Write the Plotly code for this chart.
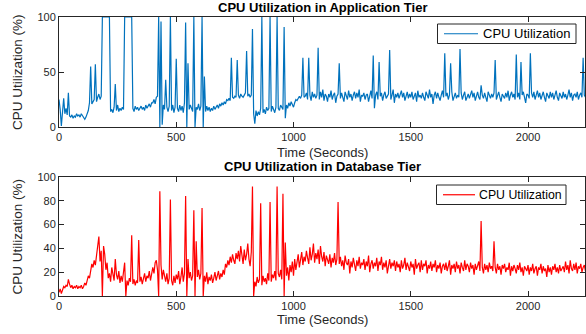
import plotly.graph_objects as go

STEP = 5

# CPU utilisation (%) in the application tier, every 5 s
app_cpu = [
    25, 16, 1, 19, 26, 12, 17, 11, 31, 10,
    9, 11, 8, 10, 9, 12, 10, 11, 9, 12,
    10, 8, 7, 9, 13, 15, 22, 55, 21, 24,
    25, 57, 23, 27, 30, 25, 28, 100, 100, 100,
    100, 100, 100, 100, 14, 16, 13, 18, 39, 15,
    20, 14, 17, 15, 18, 16, 100, 100, 100, 100,
    100, 100, 100, 17, 14, 19, 16, 18, 15, 17,
    19, 16, 18, 15, 20, 17, 19, 21, 18, 22,
    22, 25, 21, 27, 28, 100, 0, 96, 2, 20,
    16, 43, 18, 14, 19, 100, 15, 20, 13, 18,
    62, 17, 14, 20, 15, 19, 13, 22, 95, 0,
    58, 16, 20, 17, 14, 100, 0, 18, 16, 21,
    15, 19, 100, 0, 46, 14, 19, 15, 18, 14,
    17, 15, 19, 16, 18, 20, 17, 21, 19, 22,
    20, 23, 21, 25, 24, 26, 24, 63, 27, 26,
    28, 27, 61, 29, 26, 30, 28, 27, 29, 31,
    69, 28, 30, 27, 29, 89, 12, 3, 15, 10,
    14, 11, 17, 100, 13, 16, 12, 18, 15, 17,
    100, 14, 19, 16, 13, 18, 100, 17, 15, 20,
    18, 16, 91, 8, 20, 17, 22, 19, 23, 21,
    18, 22, 25, 24, 27, 28, 26, 29, 63, 27,
    28, 31, 25, 63, 29, 24, 32, 27, 30, 26,
    29, 72, 25, 32, 27, 34, 24, 30, 28, 23,
    30, 27, 33, 25, 29, 31, 22, 28, 30, 58,
    26, 31, 27, 23, 32, 29, 25, 33, 27, 30,
    24, 29, 32, 26, 31, 27, 34, 23, 29, 28,
    31, 25, 29, 30, 23, 28, 33, 26, 65, 17,
    29, 32, 25, 59, 28, 31, 24, 29, 32, 26,
    28, 30, 70, 25, 29, 34, 22, 30, 27, 31,
    26, 29, 33, 27, 31, 24, 29, 32, 26, 30,
    27, 32, 25, 29, 31, 23, 33, 27, 29, 26,
    31, 27, 24, 32, 29, 26, 34, 27, 30, 21,
    29, 32, 26, 31, 27, 24, 29, 33, 27, 67,
    28, 31, 25, 29, 58, 32, 24, 28, 31, 26,
    29, 27, 71, 31, 25, 29, 32, 24, 28, 30,
    26, 29, 33, 27, 31, 24, 29, 32, 27, 25,
    38, 29, 26, 31, 27, 23, 32, 29, 26, 30,
    27, 31, 61, 25, 29, 32, 27, 23, 30, 28,
    26, 31, 27, 33, 24, 29, 32, 27, 30, 25,
    66, 27, 31, 25, 59, 29, 32, 27, 22, 30,
    29, 26, 67, 31, 27, 32, 25, 29, 33, 27,
    31, 25, 29, 32, 27, 23, 31, 29, 26, 32,
    27, 31, 25, 29, 33, 27, 24, 31, 29, 26,
    32, 27, 30, 25, 29, 34, 27, 31, 24, 29,
    30, 27, 32, 25, 29, 31, 27, 63, 29, 27,
]

# CPU utilisation (%) in the database tier, every 5 s
db_cpu = [
    3, 6, 2, 5, 8, 7, 9, 8, 14, 10,
    7, 9, 6, 8, 7, 9, 6, 8, 7, 9,
    6, 8, 11, 9, 14, 17, 15, 20, 27, 24,
    30, 26, 34, 37, 50, 29, 38, 0, 42, 35,
    22, 28, 15, 19, 12, 24, 16, 13, 31, 18,
    14, 21, 11, 17, 12, 19, 28, 0, 13, 9,
    15, 12, 51, 10, 14, 9, 13, 11, 47, 12,
    16, 10, 14, 19, 12, 17, 15, 21, 13, 18,
    24, 19, 28, 30, 22, 0, 88, 26, 14, 22,
    17, 12, 19, 10, 15, 81, 13, 9, 17, 11,
    18, 14, 21, 10, 16, 24, 12, 19, 84, 0,
    31, 15, 20, 13, 17, 72, 0, 46, 16, 22,
    14, 19, 74, 0, 17, 12, 20, 10, 16, 13,
    18, 11, 15, 20, 13, 17, 21, 14, 19, 16,
    22, 18, 27, 24, 30, 26, 33, 28, 35, 30,
    27, 36, 31, 38, 29, 42, 33, 27, 39, 30,
    35, 44, 31, 25, 37, 92, 0, 12, 8, 16,
    11, 14, 78, 9, 17, 12, 15, 10, 19, 13,
    79, 12, 18, 15, 21, 13, 92, 19, 16, 22,
    14, 86, 0, 45, 17, 24, 13, 26, 20, 29,
    17, 31, 22, 27, 35, 24, 30, 37, 26, 33,
    29, 38, 32, 27, 41, 30, 35, 44, 28, 36,
    31, 39, 27, 42, 33, 29, 37, 25, 34, 30,
    27, 35, 24, 32, 28, 36, 26, 31, 79, 27,
    33, 25, 30, 22, 34, 28, 26, 31, 19, 29,
    24, 32, 27, 21, 30, 25, 33, 23, 28, 26,
    31, 22, 29, 25, 34, 20, 27, 30, 23, 28,
    25, 32, 21, 29, 26, 33, 22, 28, 24, 30,
    19, 27, 31, 23, 28, 25, 30, 21, 29, 24,
    27, 20, 30, 23, 26, 32, 22, 28, 25, 21,
    29, 24, 27, 18, 31, 23, 26, 28, 20, 30,
    22, 27, 25, 30, 19, 26, 23, 29, 21, 27,
    24, 30, 20, 26, 23, 28, 19, 25, 27, 22,
    28, 21, 25, 30, 18, 26, 23, 27, 20, 29,
    23, 26, 19, 28, 24, 21, 30, 22, 27, 25,
    20, 28, 23, 26, 18, 27, 22, 25, 29, 21,
    63, 24, 19, 27, 22, 26, 20, 28, 23, 25,
    21, 46, 24, 19, 27, 22, 25, 18, 26, 23,
    27, 20, 24, 22, 28, 17, 25, 21, 26, 23,
    19, 26, 22, 28, 20, 24, 17, 25, 23, 21,
    26, 18, 24, 21, 27, 19, 23, 25, 17, 24,
    22, 27, 19, 25, 21, 23, 16, 26, 20, 24,
    18, 25, 22, 27, 20, 24, 19, 26, 21, 23,
    25, 20, 29, 22, 26, 19, 30, 23, 21, 27,
    22, 28, 19, 25, 23, 27, 20, 24, 26, 21,
]

time_s = [STEP * i for i in range(len(app_cpu))]

x_ticks = [0, 500, 1000, 1500, 2000]
app_y_ticks = [0, 50, 100]
db_y_ticks = [0, 20, 40, 60, 80, 100]

titles = ["CPU Utilization in Application Tier", "CPU Utilization in Database Tier"]
x_label = "Time (Seconds)"
y_label = "CPU Utilization (%)"
legend_label = "CPU Utilization"
colors = ["#0072BD", "#FF0000"]

W, H = 586, 334
L, R, T, B = 59, 1, 17, 38
plot_h = H - T - B  # 279
top_box = (17, 127)
bot_box = (177, 296)


def py(pix):
    return (H - B - pix) / plot_h


def px(pix):
    return (pix - L) / (W - L - R)


fig = go.Figure()
fig.add_trace(go.Scatter(x=time_s, y=app_cpu, mode="lines", name=legend_label,
                         line=dict(color=colors[0], width=1.2),
                         xaxis="x", yaxis="y", showlegend=False))
fig.add_trace(go.Scatter(x=time_s, y=db_cpu, mode="lines", name=legend_label,
                         line=dict(color=colors[1], width=1.2),
                         xaxis="x2", yaxis="y2", showlegend=False))

ink = "#262626"
font = "Liberation Sans, Arial, sans-serif"
axis_common = dict(showline=True, linecolor=ink, linewidth=1, mirror="ticks",
                   ticks="inside", ticklen=5, tickcolor=ink, tickwidth=1,
                   showgrid=False, zeroline=False,
                   tickfont=dict(family=font, size=11, color=ink))

fig.update_layout(
    width=W, height=H,
    margin=dict(l=L, r=R, t=T, b=B),
    paper_bgcolor="white", plot_bgcolor="white",
    xaxis=dict(domain=[0, 1], anchor="y", range=[0, 2243], tickvals=x_ticks, **axis_common),
    yaxis=dict(domain=[py(top_box[1]), py(top_box[0])], anchor="x", range=[0, 100],
               tickvals=app_y_ticks, **axis_common),
    xaxis2=dict(domain=[0, 1], anchor="y2", range=[0, 2243], tickvals=x_ticks, **axis_common),
    yaxis2=dict(domain=[0, py(bot_box[0])], anchor="x2", range=[0, 100],
                tickvals=db_y_ticks, **axis_common),
    showlegend=False,
)

ann = []
shapes = []
for title, ypix in zip(titles, [7, 166]):
    ann.append(dict(text="<b>" + title + "</b>", x=px(322), y=py(ypix), xref="paper", yref="paper",
                    xanchor="center", yanchor="middle", showarrow=False,
                    font=dict(family=font, size=13, color="black")))
for ypix in [152, 319]:
    ann.append(dict(text=x_label, x=px(322), y=py(ypix), xref="paper", yref="paper",
                    xanchor="center", yanchor="middle", showarrow=False,
                    font=dict(family=font, size=13, color=ink)))
for ypix in [(top_box[0] + top_box[1]) / 2, (bot_box[0] + bot_box[1]) / 2]:
    ann.append(dict(text=y_label, x=px(17), y=py(ypix), xref="paper", yref="paper",
                    xanchor="center", yanchor="middle", textangle=-90, showarrow=False,
                    font=dict(family=font, size=13.5, color=ink)))

# Legend boxes (MATLAB style): box, line sample and label
legend_boxes = [
    dict(x0=437.5, x1=576, y0=24, y1=43.5, lx0=444, lx1=478, tx=481, fs=13),
    dict(x0=436.5, x1=566, y0=185, y1=204.5, lx0=443, lx1=475, tx=477, fs=12.3),
]
for c, lb in zip(colors, legend_boxes):
    shapes.append(dict(type="rect", xref="paper", yref="paper",
                       x0=px(lb["x0"]), x1=px(lb["x1"]), y0=py(lb["y1"]), y1=py(lb["y0"]),
                       line=dict(color=ink, width=1), fillcolor="white", layer="above"))
    ym = (lb["y0"] + lb["y1"]) / 2
    shapes.append(dict(type="line", xref="paper", yref="paper",
                       x0=px(lb["lx0"]), x1=px(lb["lx1"]), y0=py(ym), y1=py(ym),
                       line=dict(color=c, width=1.2), layer="above"))
    ann.append(dict(text=legend_label, x=px(lb["tx"]), y=py(ym), xref="paper", yref="paper",
                    xanchor="left", yanchor="middle", showarrow=False,
                    font=dict(family=font, size=lb["fs"], color="black")))

fig.update_layout(annotations=ann, shapes=shapes)

fig.write_html("out.html")
